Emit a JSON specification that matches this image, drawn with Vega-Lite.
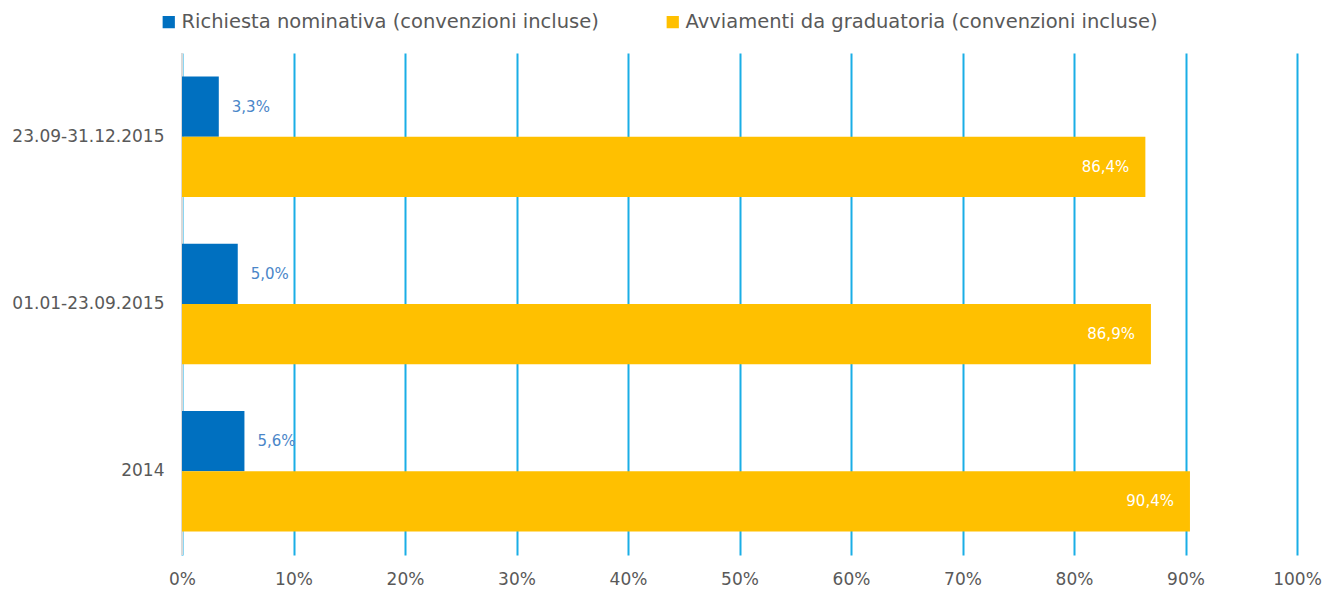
{
  "$schema": "https://vega.github.io/schema/vega-lite/v6.json",
  "width": 1115,
  "height": 502,
  "autosize": {"type": "none"},
  "padding": {"left": 182, "top": 53, "right": 30, "bottom": 35},
  "background": "white",
  "data": {"values": [
    {"periodo": "23.09-31.12.2015", "serie": "Richiesta nominativa (convenzioni incluse)", "valore": 0.033},
    {"periodo": "23.09-31.12.2015", "serie": "Avviamenti da graduatoria (convenzioni incluse)", "valore": 0.864},
    {"periodo": "01.01-23.09.2015", "serie": "Richiesta nominativa (convenzioni incluse)", "valore": 0.050},
    {"periodo": "01.01-23.09.2015", "serie": "Avviamenti da graduatoria (convenzioni incluse)", "valore": 0.869},
    {"periodo": "2014", "serie": "Richiesta nominativa (convenzioni incluse)", "valore": 0.056},
    {"periodo": "2014", "serie": "Avviamenti da graduatoria (convenzioni incluse)", "valore": 0.904}
  ]},
  "encoding": {
    "y": {"field": "periodo", "type": "nominal", "sort": ["23.09-31.12.2015", "01.01-23.09.2015", "2014"],
      "scale": {"paddingInner": 0.28, "paddingOuter": 0.14},
      "axis": {"title": null, "ticks": false, "domain": false, "grid": false, "labelPadding": 18, "labelFontSize": 17, "labelColor": "#595959", "labelFont": "DejaVu Sans"}},
    "yOffset": {"field": "serie", "type": "nominal", "sort": ["Richiesta nominativa (convenzioni incluse)", "Avviamenti da graduatoria (convenzioni incluse)"], "scale": {"paddingInner": 0, "paddingOuter": 0}},
    "x": {"field": "valore", "type": "quantitative", "scale": {"domain": [0, 1], "nice": false},
      "axis": {"title": null, "format": ".0%", "values": [0, 0.1, 0.2, 0.3, 0.4, 0.5, 0.6, 0.7, 0.8, 0.9, 1], "ticks": false, "domain": false, "grid": true, "gridColor": "#1aaee6", "gridWidth": 2, "gridOpacity": 1, "labelPadding": 16, "labelFontSize": 17, "labelColor": "#595959", "labelFont": "DejaVu Sans", "labelFlush": false}}
  },
  "layer": [
    {"mark": {"type": "rule", "color": "#d9d9d9", "strokeWidth": 2}, "encoding": {"x": {"datum": 0}, "y": {"value": 0}, "y2": {"value": 502}, "yOffset": null}},
    {"mark": {"type": "bar"},
      "encoding": {"color": {"field": "serie", "type": "nominal",
        "scale": {"domain": ["Richiesta nominativa (convenzioni incluse)", "Avviamenti da graduatoria (convenzioni incluse)"], "range": ["#0070C0", "#FFC000"]},
        "legend": {"title": null, "orient": "none", "legendX": -23, "legendY": -41, "direction": "horizontal", "symbolType": "square", "symbolSize": 150, "symbolOpacity": 1, "symbolStrokeWidth": 0, "labelFontSize": 19.5, "labelColor": "#595959", "labelFont": "DejaVu Sans", "labelOffset": 3, "columnPadding": 64, "labelLimit": 700}}}},
    {"transform": [{"filter": "datum.valore < 0.5"}],
      "mark": {"type": "text", "align": "left", "baseline": "middle", "dx": 13, "fontSize": 15, "font": "DejaVu Sans", "color": "#4a86c8"},
      "encoding": {"text": {"field": "valore", "type": "quantitative", "format": ".1%"}}},
    {"transform": [{"filter": "datum.valore >= 0.5"}],
      "mark": {"type": "text", "align": "right", "baseline": "middle", "dx": -16, "fontSize": 15, "font": "DejaVu Sans", "color": "white"},
      "encoding": {"text": {"field": "valore", "type": "quantitative", "format": ".1%"}}}
  ],
  "config": {
    "view": {"stroke": null},
    "locale": {"number": {"decimal": ",", "thousands": ".", "grouping": [3], "currency": ["€", ""]}}
  }
}
